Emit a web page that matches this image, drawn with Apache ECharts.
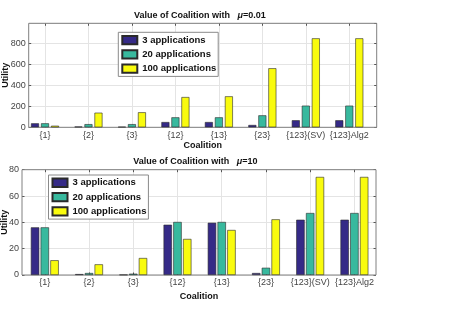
<!DOCTYPE html>
<html><head><meta charset="utf-8">
<script src="https://cdn.jsdelivr.net/npm/echarts@6/dist/echarts.min.js"></script>
<style>html,body{margin:0;padding:0;background:#fff}#c{width:457px;height:309px}</style>
</head><body><div id="c"></div>
<script>
// ---- data ----
const categories = ['{1}', '{2}', '{3}', '{12}', '{13}', '{23}', '{123}(SV)', '{123}Alg2'];
const seriesNames = ['3 applications', '20 applications', '100 applications'];
// top panel (mu = 0.01)
const topApps3   = [38, 7, 5, 50, 50, 22, 67, 67];
const topApps20  = [38, 30, 30, 95, 95, 114, 206, 206];
const topApps100 = [15, 139, 143, 288, 295, 562, 847, 847];
// bottom panel (mu = 10)
const botApps3   = [36.2, 0.7, 0.2, 38.2, 39.7, 1.5, 42.0, 42.0];
const botApps20  = [36.2, 1.5, 1.0, 40.3, 40.3, 5.5, 47.1, 47.1];
const botApps100 = [11.2, 8.1, 12.9, 27.4, 34.2, 42.3, 74.5, 74.5];
const topMuText = '=0.01';
const botMuText = '=10';
const titlePrefix = 'Value of Coalition with   ';
const xName = 'Coalition';
const yName = 'Utility';

// ---- styles ----
const FONT = 'Liberation Sans';
const colors = ['#352A87', '#38B99E', '#F9FB0E'];
const gridColor = '#e4e4e4';
const frameColor = '#808080';
const tickColor = '#555';
const labelColor = '#444';

const toXY = arr => arr.map((v, i) => [i + 1, v]);

const P = {
  top: { barLeft: 45, frameLeft: 28.7, frameRight: 376.7, top: 23.3, height: 104, span: 43.47, ymax: 990, yint: 200, bw: 8, gap: '25%' },
  bot: { barLeft: 44.8, frameLeft: 22, frameRight: 376, top: 169.7, height: 105.3, span: 44.23, ymax: 80, yint: 20, bw: 8.4, gap: '16%' }
};

const grids = [], xAxes = [], yAxes = [], series = [];
function addPanel(p, vals, labelMargin, xNameGap, yNameGap) {
  const gBar = grids.length;
  grids.push({ left: p.barLeft, top: p.top, width: p.span * 7, height: p.height, containLabel: false, outerBoundsMode: 'none' });
  const gFrame = grids.length;
  grids.push({ left: p.frameLeft, top: p.top, width: p.frameRight - p.frameLeft, height: p.height, show: true,
               borderColor: frameColor, borderWidth: 1, backgroundColor: 'transparent', z: 1,
               containLabel: false, outerBoundsMode: 'none' });
  const xBar = xAxes.length;
  xAxes.push({ gridIndex: gBar, type: 'value', min: 1, max: 8, interval: 1, position: 'bottom',
    axisLine: { show: false },
    axisTick: { show: true, inside: true, length: 2.5, lineStyle: { color: tickColor } },
    axisLabel: { show: true, margin: labelMargin, fontSize: 9, fontFamily: FONT, color: labelColor,
                 formatter: v => categories[v - 1] || '' },
    splitLine: { show: true, lineStyle: { color: gridColor, width: 1 } } });
  xAxes.push({ gridIndex: gBar, type: 'value', min: 1, max: 8, interval: 1, position: 'top',
    axisLine: { show: false }, axisLabel: { show: false }, splitLine: { show: false },
    axisTick: { show: true, inside: true, length: 2.5, lineStyle: { color: tickColor } } });
  xAxes.push({ gridIndex: gFrame, type: 'value', min: 0, max: 1, position: 'bottom',
    axisLine: { show: false }, axisTick: { show: false }, axisLabel: { show: false }, splitLine: { show: false },
    name: xName, nameLocation: 'middle', nameGap: xNameGap, nameMoveOverlap: false,
    nameTextStyle: { fontSize: 9, fontWeight: 'bold', fontFamily: FONT, color: '#111' } });
  const yBar = yAxes.length;
  yAxes.push({ gridIndex: gBar, type: 'value', min: 0, max: p.ymax, show: false });
  yAxes.push({ gridIndex: gFrame, type: 'value', min: 0, max: p.ymax, interval: p.yint, position: 'left',
    axisLine: { show: false },
    axisTick: { show: true, inside: true, length: 2.5, lineStyle: { color: tickColor } },
    axisLabel: { show: true, margin: 3, fontSize: 9, fontFamily: FONT, color: labelColor, showMaxLabel: p.ymax % p.yint === 0 },
    splitLine: { show: true, lineStyle: { color: gridColor, width: 1 } },
    name: yName, nameLocation: 'middle', nameGap: yNameGap, nameMoveOverlap: false,
    nameTextStyle: { fontSize: 9, fontWeight: 'bold', fontFamily: FONT, color: '#111' } });
  yAxes.push({ gridIndex: gFrame, type: 'value', min: 0, max: p.ymax, interval: p.yint, position: 'right',
    axisLine: { show: false }, axisLabel: { show: false }, splitLine: { show: false },
    axisTick: { show: true, inside: true, length: 2.5, lineStyle: { color: tickColor } } });
  vals.forEach((arr, k) => {
    series.push({ type: 'bar', name: seriesNames[k], xAxisIndex: xBar, yAxisIndex: yBar,
      data: toXY(arr), barWidth: p.bw, barGap: p.gap, clip: false, z: 3,
      itemStyle: { color: colors[k], borderColor: '#2a2a2a', borderWidth: 0.6 } });
  });
}
addPanel(P.top, [topApps3, topApps20, topApps100], 3.5, 13.5, 19);
addPanel(P.bot, [botApps3, botApps20, botApps100], 3, 17, 12.5);

const titleRich = {
  a: { fontSize: 9, fontWeight: 'bold', fontFamily: FONT, color: '#111' },
  m: { fontSize: 9, fontWeight: 'bold', fontStyle: 'italic', fontFamily: FONT, color: '#111' }
};
const mkTitle = (mu, left, top) => ({
  text: '{a|' + titlePrefix + '}{m|μ}{a|' + mu + '}', left, top, padding: 0,
  textStyle: { rich: titleRich }
});

const legendBase = {
  orient: 'vertical', data: seriesNames, icon: 'rect', itemWidth: 15, itemHeight: 8.3, itemGap: 4,
  padding: [2.6, 2, 2.6, 3], borderColor: '#8a8a8a', borderWidth: 1, backgroundColor: '#fff',
  selectedMode: false, z: 10,
  textStyle: { fontSize: 9.5, fontWeight: 'bold', fontFamily: FONT, color: '#111' }
};

const chart = echarts.init(document.getElementById('c'), null, { renderer: 'canvas' });
chart.setOption({
  animation: false,
  backgroundColor: '#fff',
  title: [mkTitle(topMuText, 134, 11), mkTitle(botMuText, 133.3, 157.5)],
  legend: [Object.assign({}, legendBase, { left: 118.3, top: 32.3 }),
           Object.assign({}, legendBase, { left: 48.5, top: 175 })],
  grid: grids, xAxis: xAxes, yAxis: yAxes, series
});
</script></body></html>
